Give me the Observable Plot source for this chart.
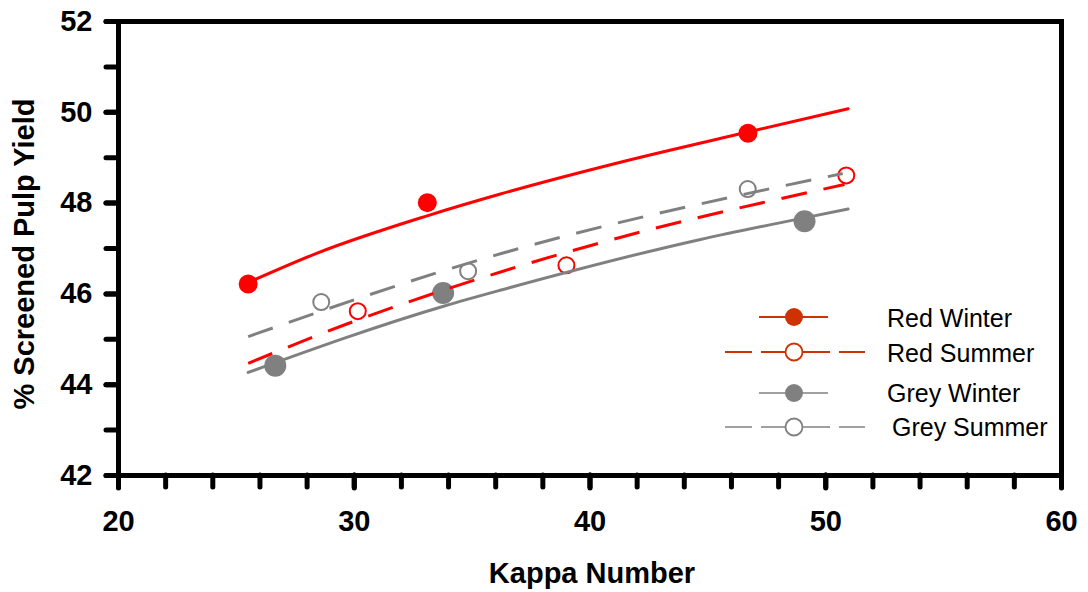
<!DOCTYPE html>
<html>
<head>
<meta charset="utf-8">
<script src="https://cdn.jsdelivr.net/npm/d3@7"></script>
<script src="https://cdn.jsdelivr.net/npm/@observablehq/plot@0.6"></script>
<style>
  html, body { margin: 0; padding: 0; background: #fff; }
  #chart { position: relative; width: 1088px; height: 592px; }
  #chart svg { position: absolute; left: 0; top: 0; }
</style>
</head>
<body>
<div id="chart"></div>
<script>
// ---- data ----
const seriesNames = ["Red Winter", "Red Summer", "Grey Winter", "Grey Summer"];

// measured points
const kappaRedWinter = [25.5, 33.1, 46.7];
const yieldRedWinter = [46.22, 48.01, 49.54];
const kappaRedSummer = [30.15, 39.0, 50.87];
const yieldRedSummer = [45.62, 46.63, 48.61];
const kappaGreyWinter = [26.65, 33.77, 49.1];
const yieldGreyWinter = [44.42, 46.02, 47.6];
const kappaGreySummer = [28.6, 34.83, 46.69];
const yieldGreySummer = [45.82, 46.5, 48.31];

// trend lines
const trendKappaRedWinter = [25.5, 28.43, 33.09, 36.2, 41.29, 46.74, 50.95];
const trendYieldRedWinter = [46.25, 46.9, 47.72, 48.2, 48.9, 49.57, 50.08];
const trendKappaRedSummer = [25.5, 29.6, 36.31, 42.12, 49.75, 50.8];
const trendYieldRedSummer = [44.47, 45.32, 46.5, 47.36, 48.29, 48.41];
const trendKappaGreyWinter = [25.5, 33.86, 36.19, 44.69, 49.14, 50.95];
const trendYieldGreyWinter = [44.27, 45.74, 46.08, 47.2, 47.68, 47.87];
const trendKappaGreySummer = [25.5, 36.31, 39.15, 46.06, 50.72];
const trendYieldGreySummer = [45.06, 46.9, 47.3, 48.14, 48.65];

// axes
const xTicks = [20, 22, 24, 26, 28, 30, 32, 34, 36, 38, 40, 42, 44, 46, 48, 50, 52, 54, 56, 58, 60];
const xLabels = [20, 30, 40, 50, 60];
const yTicks = [42, 43, 44, 45, 46, 47, 48, 49, 50, 51, 52];
const yLabels = [42, 44, 46, 48, 50, 52];
const xTitle = "Kappa Number";
const yTitle = "% Screened Pulp Yield";

// ---- build tables ----
const toRows = (xs, ys) => xs.map((k, i) => ({kappa: k, yield: ys[i]}));
const ptsRW = toRows(kappaRedWinter, yieldRedWinter);
const ptsRS = toRows(kappaRedSummer, yieldRedSummer);
const ptsGW = toRows(kappaGreyWinter, yieldGreyWinter);
const ptsGS = toRows(kappaGreySummer, yieldGreySummer);
const trRW = toRows(trendKappaRedWinter, trendYieldRedWinter);
const trRS = toRows(trendKappaRedSummer, trendYieldRedSummer);
const trGW = toRows(trendKappaGreyWinter, trendYieldGreyWinter);
const trGS = toRows(trendKappaGreySummer, trendYieldGreySummer);

const RED = "#ff0000", GREY = "#808080";
const FONT = "'Liberation Sans', Arial, Helvetica, sans-serif";

const plot = Plot.plot({
  width: 1088,
  height: 592,
  marginLeft: 118,
  marginRight: 27,
  marginTop: 21,
  marginBottom: 117,
  style: {fontFamily: FONT, fontSize: "29px", fontWeight: "bold", color: "#000", background: "#fff", overflow: "visible"},
  x: {domain: [20, 60]},
  y: {domain: [42, 52]},
  marks: [
    // ticks
    Plot.axisX(xTicks, {tickSize: 12, tickFormat: () => "", strokeWidth: 5, strokeLinecap: "round", label: null}),
    Plot.axisX(xLabels, {tickSize: 13, tickPadding: 22, strokeWidth: 5, strokeLinecap: "round", label: null, fontSize: 29, fontWeight: "bold"}),
    Plot.axisY(yTicks, {tickSize: 12, tickFormat: () => "", strokeWidth: 5, strokeLinecap: "round", label: null}),
    Plot.axisY(yLabels, {tickSize: 12, tickPadding: 14, strokeWidth: 5, strokeLinecap: "round", label: null, fontSize: 29, fontWeight: "bold"}),
    Plot.frame({stroke: "#000", strokeWidth: 5}),
    // points
    Plot.dot(ptsRW, {x: "kappa", y: "yield", r: 9.5, fill: RED}),
    Plot.dot(ptsGW, {x: "kappa", y: "yield", r: 11, fill: GREY}),
    Plot.dot(ptsRS, {x: "kappa", y: "yield", r: 8, fill: "none", stroke: RED, strokeWidth: 2}),
    Plot.dot(ptsGS, {x: "kappa", y: "yield", r: 8, fill: "none", stroke: GREY, strokeWidth: 2}),
    // trend lines
    Plot.line(trRW, {x: "kappa", y: "yield", stroke: RED, strokeWidth: 3, curve: "monotone-x"}),
    Plot.line(trGW, {x: "kappa", y: "yield", stroke: GREY, strokeWidth: 3, curve: "monotone-x"}),
    Plot.line(trGS, {x: "kappa", y: "yield", stroke: GREY, strokeWidth: 3, curve: "monotone-x", strokeDasharray: "26,17", strokeLinecap: "butt"}),
    Plot.line(trRS, {x: "kappa", y: "yield", stroke: RED, strokeWidth: 3, curve: "monotone-x", strokeDasharray: "26,17", strokeLinecap: "butt"})
  ]
});

document.getElementById("chart").appendChild(plot);

const svg = d3.select(plot);

// axis titles
svg.append("text")
  .attr("x", 592).attr("y", 583)
  .attr("text-anchor", "middle")
  .style("font-family", FONT).style("font-size", "29px").style("font-weight", "bold")
  .attr("fill", "#000")
  .text(xTitle);

svg.append("text")
  .attr("transform", "translate(34,254) rotate(-90)")
  .attr("text-anchor", "middle")
  .style("font-family", FONT).style("font-size", "29px").style("font-weight", "bold")
  .attr("fill", "#000")
  .text(yTitle);

// legend
const legendColors = ["#cc3300", "#cc3300", GREY, GREY];
const legendFilled = [true, false, true, false];
const legendDashed = [false, true, false, true];
const legendY = [317, 352, 393, 427];
const legendTextY = [327, 362, 402, 436];
const legendTextX = [887, 887, 887, 892];

const lg = svg.append("g").attr("class", "legend").attr("text-anchor", "start");
seriesNames.forEach((name, i) => {
  const c = legendColors[i];
  const y = legendY[i];
  const sw = i < 2 ? 2 : 1.5;
  if (legendDashed[i]) {
    [[725, 752], [761, 830], [839, 865]].forEach(([a, b]) => {
      lg.append("line").attr("x1", a).attr("x2", b).attr("y1", y).attr("y2", y)
        .attr("stroke", c).attr("stroke-width", sw);
    });
  } else {
    lg.append("line").attr("x1", 759).attr("x2", 828).attr("y1", y).attr("y2", y)
      .attr("stroke", c).attr("stroke-width", sw);
  }
  lg.append("circle").attr("cx", 794).attr("cy", y).attr("r", legendFilled[i] ? 9 : 8.5)
    .attr("fill", legendFilled[i] ? c : "#fff")
    .attr("stroke", legendFilled[i] ? "none" : c)
    .attr("stroke-width", 1.8);
  lg.append("text").attr("x", legendTextX[i]).attr("y", legendTextY[i])
    .attr("text-anchor", "start")
    .style("font-family", FONT).style("font-size", "25px").style("font-weight", "normal")
    .attr("fill", "#000")
    .text(name);
});
</script>
</body>
</html>
